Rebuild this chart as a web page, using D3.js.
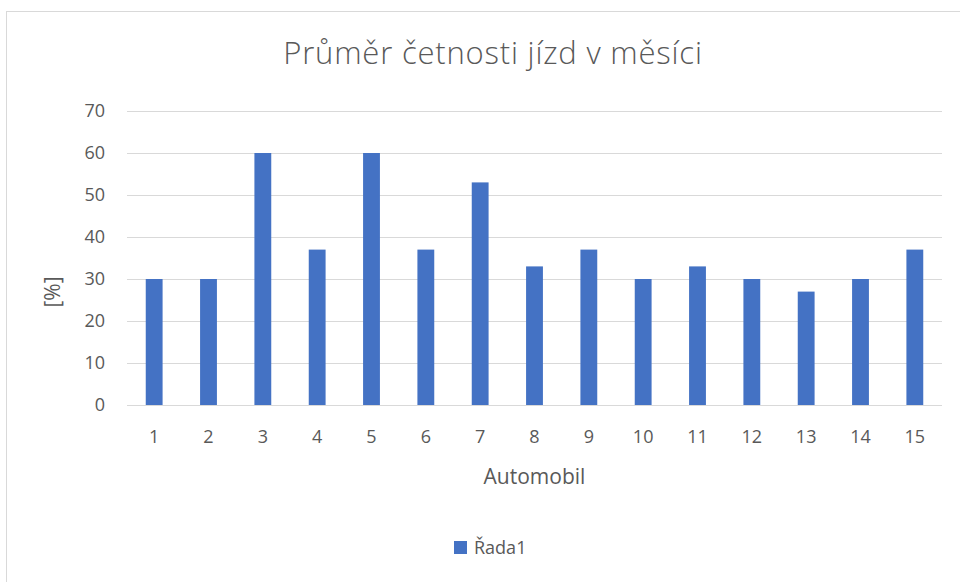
<html>
<head>
<meta charset="utf-8">
<title>Průměr četnosti jízd v měsíci</title>
<style>
  body { margin: 0; background: #fff; }
  text { font-family: "Open Sans", "Noto Sans", sans-serif; fill: #595959; }
</style>
<script src="https://cdn.jsdelivr.net/npm/d3@7/dist/d3.min.js"></script>
</head>
<body>
<script>
// data
var categories = ["1","2","3","4","5","6","7","8","9","10","11","12","13","14","15"];
var values = [30, 30, 60, 37, 60, 37, 53, 33, 37, 30, 33, 30, 27, 30, 37];
var yTicks = [0, 10, 20, 30, 40, 50, 60, 70];
var seriesName = "Řada1";
var titleText = "Průměr četnosti jízd v měsíci";
var xTitle = "Automobil";
var yTitle = "[%]";

var width = 960, height = 582;
var plot = {left: 127, right: 942, top: 111, bottom: 405};
var barColor = "#4472c4";

var svg = d3.select("body").append("svg")
    .attr("width", width)
    .attr("height", height);

// chart frame
svg.append("rect")
    .attr("x", 6.5).attr("y", 11.5)
    .attr("width", 990).attr("height", 600)
    .attr("fill", "#fff")
    .attr("stroke", "#d9d9d9");

var x = d3.scaleBand()
    .domain(categories)
    .range([plot.left, plot.right])
    .padding(0);
var y = d3.scaleLinear()
    .domain([0, 70])
    .range([plot.bottom, plot.top]);

// gridlines
svg.append("g").selectAll("line")
    .data(yTicks)
    .enter().append("line")
    .attr("x1", plot.left).attr("x2", plot.right)
    .attr("y1", function(d){ return Math.round(y(d)) + 0.5; })
    .attr("y2", function(d){ return Math.round(y(d)) + 0.5; })
    .attr("stroke", "#d9d9d9")
    .attr("stroke-width", 1);

// y labels
var yAxis = d3.axisLeft(y).tickValues(yTicks).tickSize(0).tickPadding(0);
var gy = svg.append("g")
    .attr("transform", "translate(" + 105 + ",0)")
    .call(yAxis);
gy.select(".domain").remove();
gy.selectAll("text").style("font-size", "18px").attr("fill", "#595959");

// x labels
var xAxis = d3.axisBottom(x).tickSize(0).tickPadding(0);
var gx = svg.append("g")
    .attr("transform", "translate(0," + 430 + ")")
    .call(xAxis);
gx.select(".domain").remove();
gx.selectAll("text").style("font-size", "18px").attr("fill", "#595959");

// bars
var barW = x.bandwidth() * 0.31;
svg.append("g").selectAll("rect")
    .data(values)
    .enter().append("rect")
    .attr("x", function(d, i){ return x(categories[i]) + x.bandwidth() / 2 - barW / 2; })
    .attr("y", function(d){ return y(d); })
    .attr("width", barW)
    .attr("height", function(d){ return y(0) - y(d); })
    .attr("fill", barColor);

// title
svg.append("text")
    .attr("x", 493).attr("y", 64)
    .attr("text-anchor", "middle")
    .style("font-size", "31px")
    .style("font-weight", 300)
    .style("letter-spacing", "0.8px")
    .text(titleText);

// axis titles
svg.append("text")
    .attr("x", (plot.left + plot.right) / 2).attr("y", 484)
    .attr("text-anchor", "middle")
    .style("font-size", "21px")
    .text(xTitle);

svg.append("text")
    .attr("transform", "translate(60," + 292 + ") rotate(-90)")
    .attr("text-anchor", "middle")
    .style("font-size", "21px")
    .text(yTitle);

// legend
var legend = svg.append("g").attr("transform", "translate(454,541)");
legend.append("rect")
    .attr("x", 0).attr("y", 0)
    .attr("width", 13).attr("height", 13)
    .attr("fill", barColor);
legend.append("text")
    .attr("x", 20).attr("y", 13)
    .style("font-size", "18px")
    .text(seriesName);
</script>
</body>
</html>
